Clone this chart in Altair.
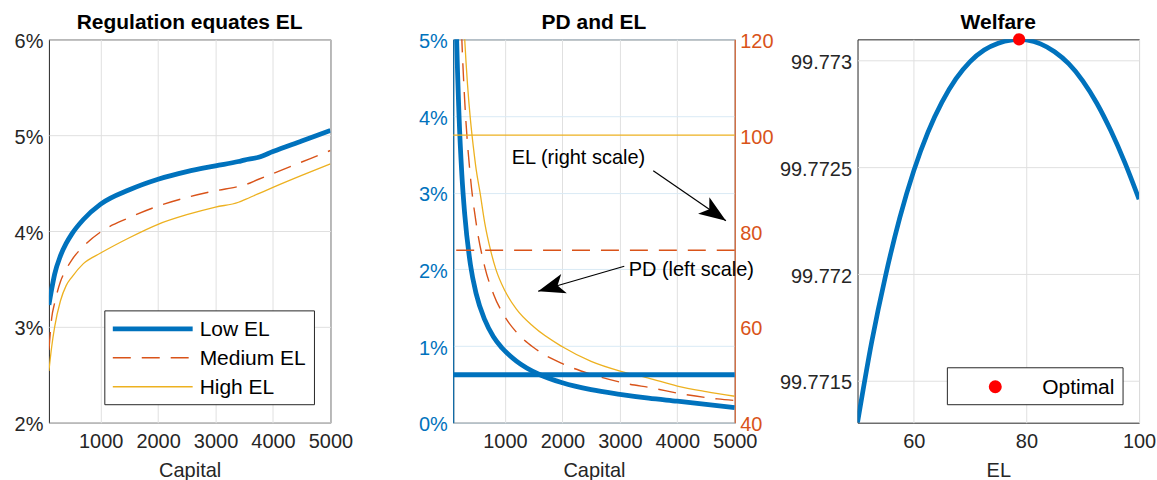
import altair as alt
import pandas as pd

FONT = "Liberation Sans"
BLUE, ORANGE, YELLOW, RED = "#0072BD", "#D95319", "#EDB120", "#FF0000"
AXC = "#262626"
GRID = "#e0e0e0"
GRID_BLUE = "#d9eaf5"

# ---------------- data ----------------
panel_titles = ["Regulation equates EL", "PD and EL", "Welfare"]
series_names = ["Low EL", "Medium EL", "High EL"]
series_colors = [BLUE, ORANGE, YELLOW]
series_widths = [4.8, 1.4, 1.3]
series_dash = [None, [18, 11], None]

# Panel 1: regulation (capital ratio) that equates EL
capital = [100, 150, 200, 300, 400, 500, 700, 1000, 1500, 2000, 2500, 3000, 3400, 3500, 3750, 4000, 4500, 5000]
rate_low = [3.23, 3.40, 3.55, 3.74, 3.87, 3.97, 4.12, 4.28, 4.43, 4.54, 4.62, 4.68, 4.725, 4.74, 4.77, 4.83, 4.94, 5.05]
rate_med = [2.76, 3.10, 3.25, 3.47, 3.60, 3.70, 3.84, 3.99, 4.14, 4.26, 4.35, 4.42, 4.465, 4.48, 4.54, 4.60, 4.72, 4.84]
rate_high = [2.54, 2.80, 3.00, 3.27, 3.43, 3.52, 3.66, 3.77, 3.93, 4.07, 4.17, 4.25, 4.30, 4.325, 4.39, 4.455, 4.58, 4.70]

# Panel 2: PD (left scale, %) and EL (right scale)
pd_cap_low = [120, 150, 200, 250, 300, 400, 500, 650, 800, 950, 1200, 1600, 2000, 2500, 3000, 3500, 4000, 4500, 5000]
pd_low = [6.7, 5.33, 4.03, 3.24, 2.72, 2.06, 1.68, 1.34, 1.12, 0.974, 0.804, 0.628, 0.52, 0.43, 0.37, 0.32, 0.281, 0.24, 0.195]
pd_cap_med = [200, 250, 300, 400, 500, 650, 800, 1000, 1200, 1500, 2000, 2500, 3050, 3580, 4130, 4700, 5000]
pd_med = [6.2, 5.0, 4.2, 3.2, 2.6, 2.03, 1.68, 1.38, 1.18, 0.98, 0.77, 0.632, 0.521, 0.45, 0.368, 0.31, 0.29]
pd_cap_high = [250, 300, 350, 400, 450, 500, 567, 650, 750, 843, 1000, 1200, 1500, 2000, 2500, 3020, 3485, 4000, 4500, 5000]
pd_high = [5.8, 5.0, 4.4, 3.95, 3.6, 3.3, 3.0, 2.6, 2.25, 2.0, 1.72, 1.48, 1.25, 0.99, 0.8, 0.67, 0.585, 0.477, 0.405, 0.345]
el_levels = [50, 76, 100]

ann_labels = ["EL (right scale)", "PD (left scale)"]
ann_text_cap = [2280, 4244]
ann_text_pd = [3.372, 1.918]
arrow_from_cap = [3582, 3077]
arrow_from_pd = [3.285, 2.04]
arrow_to_cap = [4847, 1578]
arrow_to_pd = [2.634, 1.715]

# Panel 3: welfare against EL
welfare_el = [50, 52.5, 55, 57.5, 60, 62.5, 65, 67.5, 70, 72.5, 75, 77.5, 78.7,
              80, 82.5, 85, 87.5, 90, 92.5, 95, 97.5, 100]
welfare = [99.771305, 99.77168, 99.771995, 99.772263, 99.772484, 99.772663, 99.772804, 99.772914,
           99.772994, 99.773048, 99.77308, 99.773095, 99.773098, 99.773095, 99.773077, 99.77304,
           99.772984, 99.772904, 99.772799, 99.77267, 99.77252, 99.77235]
opt_el = [78.7]
opt_welfare = [max(welfare)]

# ---------------- layout ----------------
W, H = 282, 384
ARROW_PATH = "M0,0 L0.37,1 L0,0.75 L-0.37,1 Z"


def line_mark(i, **extra):
    kw = dict(color=series_colors[i], strokeWidth=series_widths[i], clip=True, interpolate="monotone")
    if series_dash[i]:
        kw["strokeDash"] = series_dash[i]
    kw.update(extra)
    return kw


def title_layer(k):
    return alt.Chart(pd.DataFrame({"t": [panel_titles[k]]})).mark_text(
        align="center", baseline="alphabetic", font=FONT, fontSize=21, fontWeight="bold",
        color="black").encode(x=alt.value(W / 2), y=alt.value(-10), text="t:N")


# ---- panel 1 ----
x_cap = alt.X("capital:Q", scale=alt.Scale(domain=[100, 5000], nice=False, zero=False),
              axis=alt.Axis(values=[1000, 2000, 3000, 4000, 5000], format="d", title="Capital"))
y_rate = alt.Y("rate:Q", scale=alt.Scale(domain=[2, 6], nice=False, zero=False),
               axis=alt.Axis(values=[2, 3, 4, 5, 6], labelExpr="datum.value + '%'", title=None))

p1_layers = []
for i, vals in enumerate([rate_low, rate_med, rate_high]):
    df = pd.DataFrame({"capital": capital, "rate": vals})
    p1_layers.append(alt.Chart(df).mark_line(**line_mark(i)).encode(x=x_cap, y=y_rate))

one = pd.DataFrame({"k": [0]})
p1_layers.append(alt.Chart(one).mark_rect(fill="white", stroke=AXC, strokeWidth=1).encode(
    x=alt.value(56), x2=alt.value(266), y=alt.value(272), y2=alt.value(366)))
for i, name in enumerate(series_names):
    dfl = pd.DataFrame({"label": [name]})
    yy = 290 + 29 * i
    kw = dict(color=series_colors[i], strokeWidth=series_widths[i])
    if series_dash[i]:
        kw["strokeDash"] = series_dash[i]
    p1_layers.append(alt.Chart(dfl).mark_rule(**kw).encode(
        x=alt.value(64), x2=alt.value(144), y=alt.value(yy)))
    p1_layers.append(alt.Chart(dfl).mark_text(align="left", baseline="middle", font=FONT,
                                              fontSize=21, color="black").encode(
        x=alt.value(151), y=alt.value(yy + 1), text="label:N"))
p1_layers.append(title_layer(0))

p1 = alt.layer(*p1_layers).properties(width=W, height=H)

# ---- panel 2 ----
y_pd_axis = alt.Axis(values=[0, 1, 2, 3, 4, 5], labelExpr="datum.value + '%'", title=None,
                     labelColor=BLUE, domain=True, domainColor=BLUE, gridColor=GRID_BLUE)
y_pd_scale = alt.Scale(domain=[0, 5], nice=False, zero=False)
y_pd = alt.Y("pd:Q", scale=y_pd_scale, axis=y_pd_axis)

left_layers = []
for i, (xs, ys) in enumerate([(pd_cap_low, pd_low), (pd_cap_med, pd_med), (pd_cap_high, pd_high)]):
    df = pd.DataFrame({"capital": xs, "pd": ys})
    left_layers.append(alt.Chart(df).mark_line(**line_mark(i)).encode(x=x_cap, y=y_pd))

ann_df = pd.DataFrame({"capital": ann_text_cap, "pd": ann_text_pd, "label": ann_labels})
left_layers.append(alt.Chart(ann_df).mark_text(align="center", baseline="alphabetic", font=FONT,
                                               fontSize=20, color="black", clip=False).encode(
    x=x_cap, y=y_pd, text="label:N"))
arr_df = pd.DataFrame({"capital": arrow_from_cap, "pd": arrow_from_pd,
                       "capital2": arrow_to_cap, "pd2": arrow_to_pd})
left_layers.append(alt.Chart(arr_df).mark_rule(color="black", strokeWidth=1.2).encode(
    x=x_cap, y=y_pd, x2="capital2:Q", y2="pd2:Q"))
for k, ang in enumerate([124.5, 253.8]):
    head = pd.DataFrame({"capital": [arrow_to_cap[k]], "pd": [arrow_to_pd[k]]})
    left_layers.append(alt.Chart(head).mark_point(shape=ARROW_PATH, filled=True, color="black",
                                                  size=2916, angle=ang, opacity=1, strokeWidth=0,
                                                  clip=False).encode(x=x_cap, y=y_pd))
left_layers.append(title_layer(1))

y_el = alt.Y("el:Q", scale=alt.Scale(domain=[40, 120], nice=False, zero=False),
             axis=alt.Axis(orient="right", values=[40, 60, 80, 100, 120], labelColor=ORANGE,
                           domain=True, domainColor=ORANGE, grid=False, title=None, labelPadding=5))
right_layers = []
for i, lvl in enumerate(el_levels):
    kw = dict(color=series_colors[i], strokeWidth=series_widths[i])
    if series_dash[i]:
        kw["strokeDash"] = series_dash[i]
    right_layers.append(alt.Chart(pd.DataFrame({"el": [lvl]})).mark_rule(**kw).encode(y=y_el))

p2 = alt.layer(alt.layer(*left_layers), alt.layer(*right_layers)).resolve_scale(
    y="independent").properties(width=W, height=H)

# ---- panel 3 ----
x_el = alt.X("el:Q", scale=alt.Scale(domain=[50, 100], nice=False, zero=False),
             axis=alt.Axis(values=[60, 80, 100], title="EL"))
y_w = alt.Y("welfare:Q", scale=alt.Scale(domain=[min(welfare), max(welfare)], nice=False, zero=False),
            axis=alt.Axis(values=[99.7715, 99.772, 99.7725, 99.773], format=".6~r", title=None))
wdf = pd.DataFrame({"el": welfare_el, "welfare": welfare})
odf = pd.DataFrame({"el": opt_el, "welfare": opt_welfare, "label": ["Optimal"]})
p3_layers = [
    alt.Chart(wdf).mark_line(color=BLUE, strokeWidth=4.7, interpolate="monotone", clip=True).encode(x=x_el, y=y_w),
    alt.Chart(odf).mark_point(shape="circle", filled=True, color=RED, size=150, opacity=1,
                              strokeWidth=0, clip=False).encode(x=x_el, y=y_w),
    alt.Chart(odf).mark_rect(fill="white", stroke=AXC, strokeWidth=1).encode(
        x=alt.value(90), x2=alt.value(266), y=alt.value(329), y2=alt.value(366)),
    alt.Chart(odf).mark_point(shape="circle", filled=True, color=RED, size=170, opacity=1,
                              strokeWidth=0).encode(x=alt.value(138), y=alt.value(348)),
    alt.Chart(odf).mark_text(align="left", baseline="middle", font=FONT, fontSize=21, color="black").encode(
        x=alt.value(185), y=alt.value(349), text="label:N"),
    title_layer(2),
]
p3 = alt.layer(*p3_layers).properties(width=W, height=H)

chart = alt.hconcat(p1, p2, p3, spacing=123, bounds="flush").properties(
    padding={"left": 13, "top": 11, "right": 0, "bottom": 0}
).configure_view(stroke=AXC, strokeWidth=1).configure_axis(
    labelFont=FONT, labelFontSize=20, labelColor=AXC,
    titleFont=FONT, titleFontSize=20, titleFontWeight="normal", titleColor=AXC,
    ticks=False, tickSize=0, domain=False, gridColor=GRID, gridOpacity=1, gridWidth=1,
    labelFlush=False, labelOverlap=False,
).configure_axisX(labelPadding=9, titlePadding=8.6).configure_axisY(labelPadding=6, labelOffset=2)

chart.save("out.html", embed_options={"renderer": "svg", "actions": False})
